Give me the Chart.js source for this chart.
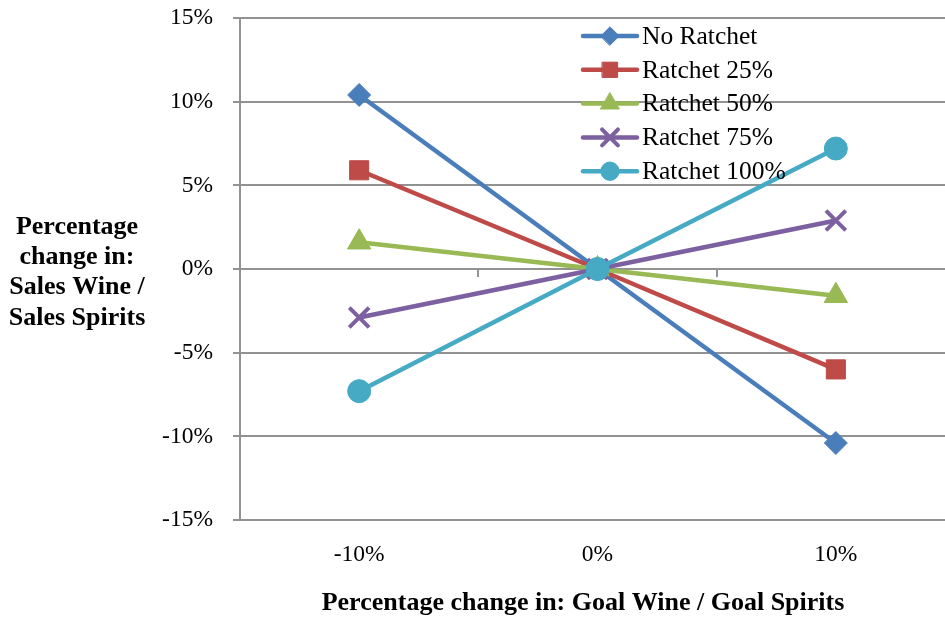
<!DOCTYPE html>
<html>
<head>
<meta charset="utf-8">
<script src="https://cdn.jsdelivr.net/npm/chart.js@4"></script>
<style>
  html, body { margin: 0; padding: 0; background: #fff; overflow: hidden; }
  #wrap { width: 945px; height: 617px; overflow: hidden; position: relative; }
  #ratchetChart { display: block; position: absolute; left: 0; top: 0; width: 973px; height: 617px; }
</style>
</head>
<body>
<div id="wrap"><canvas id="ratchetChart" width="973" height="617"></canvas></div>
<script>
// goal ratio change (x) vs resulting sales ratio change (y), in percent
const categories = ['-10%', '0%', '10%'];
const seriesNames = ['No Ratchet', 'Ratchet 25%', 'Ratchet 50%', 'Ratchet 75%', 'Ratchet 100%'];
const noRatchet  = [10.4, 0, -10.4];
const ratchet25  = [5.9, 0, -6.0];
const ratchet50  = [1.6, 0, -1.6];
const ratchet75  = [-2.9, 0, 2.9];
const ratchet100 = [-7.3, 0, 7.2];
const yMin = -15, yMax = 15, yStep = 5;

const xTitle = 'Percentage change in: Goal Wine / Goal Spirits';
const yTitleLines = ['Percentage', 'change in:', 'Sales Wine /', 'Sales Spirits'];

const SERIF = "'Times New Roman', 'Liberation Serif', serif";
const GRID = '#929292';

Chart.defaults.font.family = SERIF;
Chart.defaults.color = '#000';

function series(label, data, color, style, radius, order) {
  return {
    label, data, order,
    borderColor: color,
    backgroundColor: color,
    borderWidth: 4.5,
    pointStyle: style,
    pointRadius: radius,
    pointHoverRadius: radius,
    pointBackgroundColor: color,
    pointBorderColor: color,
    pointBorderWidth: style === 'crossRot' ? 4 : 1,
    tension: 0
  };
}

// keep tick labels from pushing the plot area inwards
function noOverflow(scale) {
  scale.paddingTop = 0;
  scale.paddingBottom = 0;
  scale.paddingLeft = 0;
  scale.paddingRight = 0;
}

// axis titles, drawn unrotated like the original layout
const axisTitles = {
  id: 'axisTitles',
  afterDraw(chart) {
    const ctx = chart.ctx;
    ctx.save();
    ctx.fillStyle = '#000';
    ctx.font = 'bold 26px ' + SERIF;
    ctx.textAlign = 'center';
    ctx.textBaseline = 'middle';
    const mid = chart.scales.y.getPixelForValue(0);
    yTitleLines.forEach((line, i) => {
      ctx.fillText(line, 77, mid - 42 + i * 30.3);
    });
    ctx.fillText(xTitle, 583, 603);
    ctx.restore();
  }
};

// legend floating inside the plot: line with marker, then label
const floatLegend = {
  id: 'floatLegend',
  afterDatasetsDraw(chart) {
    const ctx = chart.ctx;
    const x0 = 583, x1 = 637, top = 36, step = 33.8;
    ctx.save();
    chart.data.datasets.forEach((ds, i) => {
      const y = top + i * step;
      ctx.strokeStyle = ds.borderColor;
      ctx.lineWidth = 4.5;
      ctx.lineCap = 'round';
      ctx.beginPath();
      ctx.moveTo(x0, y);
      ctx.lineTo(x1, y);
      ctx.stroke();
      ctx.fillStyle = ds.pointBackgroundColor;
      ctx.strokeStyle = ds.pointBorderColor;
      ctx.lineWidth = ds.pointBorderWidth;
      Chart.helpers.drawPoint(ctx, {
        pointStyle: ds.pointStyle,
        radius: ds.pointRadius * 0.8,
        rotation: 0,
        borderWidth: ds.pointBorderWidth
      }, (x0 + x1) / 2, y);
      ctx.fillStyle = '#000';
      ctx.font = '25.5px ' + SERIF;
      ctx.textAlign = 'left';
      ctx.textBaseline = 'middle';
      ctx.fillText(ds.label, 642, y + 1);
    });
    ctx.restore();
  }
};

new Chart(document.getElementById('ratchetChart'), {
  type: 'line',
  data: {
    labels: categories,
    datasets: [
      series(seriesNames[0], noRatchet,  '#4a7ebb', 'rectRot',  11.5, 5),
      series(seriesNames[1], ratchet25,  '#be4b48', 'rect',     13.5, 4),
      series(seriesNames[2], ratchet50,  '#98b954', 'triangle', 13.5, 3),
      series(seriesNames[3], ratchet75,  '#7d60a0', 'crossRot', 14, 2),
      series(seriesNames[4], ratchet100, '#46aac5', 'circle',   11.5, 1)
    ]
  },
  options: {
    responsive: false,
    animation: false,
    devicePixelRatio: 1,
    layout: { padding: { top: 18, right: 5, bottom: 0, left: 0 } },
    plugins: {
      legend: { display: false },
      tooltip: { enabled: false },
      title: { display: false }
    },
    scales: {
      x: {
        type: 'category',
        position: 'bottom',
        offset: true,
        grid: { display: false, drawTicks: false },
        border: { display: false },
        ticks: { padding: 21, font: { size: 23.5 }, color: '#000', maxRotation: 0 },
        afterFit(scale) { scale.height = 97; noOverflow(scale); }
      },
      // horizontal axis line crossing at zero, tick marks between categories
      xZero: {
        type: 'category',
        position: { y: 0 },
        offset: true,
        grid: { drawOnChartArea: false, offset: true, tickLength: 7, color: GRID, lineWidth: 2 },
        border: { color: GRID, width: 2 },
        ticks: { display: false },
        afterFit: noOverflow
      },
      y: {
        min: yMin,
        max: yMax,
        ticks: {
          stepSize: yStep,
          padding: 20,
          font: { size: 23.5 },
          color: '#000',
          callback: v => v + '%'
        },
        grid: { color: GRID, lineWidth: 2, tickLength: 7 },
        border: { color: GRID, width: 2 },
        afterFit(scale) { scale.width = 240; noOverflow(scale); }
      }
    }
  },
  plugins: [axisTitles, floatLegend]
});
</script>
</body>
</html>
